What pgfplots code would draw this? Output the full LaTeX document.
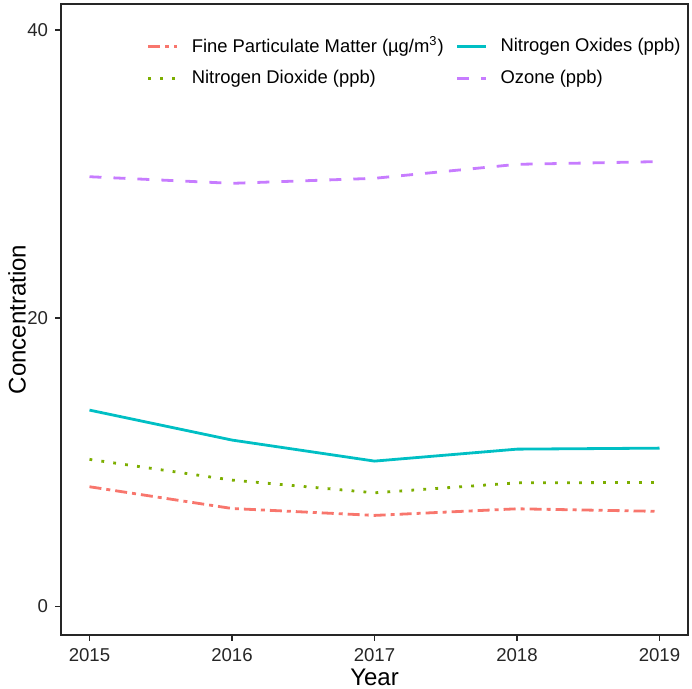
\documentclass[border=0pt]{standalone}
\usepackage{pgfplots}
\pgfplotsset{compat=1.18}
\usepackage{fontspec}
\setmainfont{Liberation Sans}
\definecolor{cPM}{HTML}{F8766D}
\definecolor{cNO2}{HTML}{7CAE00}
\definecolor{cNOX}{HTML}{00BFC4}
\definecolor{cO3}{HTML}{C77CFF}
\begin{document}
\begin{tikzpicture}
\begin{axis}[
  at={(0,0)}, anchor=south west,
  scale only axis, width=313.5pt, height=315.5pt,
  xmin=2014.8, xmax=2019.2, ymin=-2, ymax=41.8,
  axis line style={black!85, line width=0.6pt},
  xtick={2015,2016,2017,2018,2019}, ytick={0,20,40},
  tick align=outside, tick pos=left, major tick length=3pt,
  tick style={black!85, line width=0.6pt},
  /pgf/number format/assume math mode=true,
  /pgf/number format/1000 sep={},
  ticklabel style={font=\fontsize{9.3}{10}\selectfont, text=black!85},
  xlabel={Year}, ylabel={Concentration},
  label style={font=\fontsize{12}{13}\selectfont},
  xlabel style={at={(axis description cs:0.5,-0.0666)}, anchor=center},
  ylabel style={at={(axis description cs:-0.0700,0.5)}, anchor=center},
  legend columns=2,
  legend cell align=left,
  legend style={at={(0.127,0.962)}, anchor=north west, draw=none, fill=none,
    font=\fontsize{9.2}{11}\selectfont, row sep=3pt,
    /tikz/every odd column/.append style={column sep=4.5pt},
    /tikz/every even column/.append style={column sep=4pt}},
  legend image code/.code={\draw[#1] (0pt,0pt) -- (14.5pt,0pt);},
]
\addplot[color=cPM, line width=1.4pt, dash pattern=on 6pt off 2.5pt on 2pt off 2.5pt] coordinates {
 (2015,8.29) (2016,6.78) (2017,6.30) (2018,6.76) (2019,6.58)};
\addlegendentry{Fine Particulate Matter (µg/m\textsuperscript{3})}
\addplot[color=cNOX, line width=1.4pt] coordinates {
 (2015,13.61) (2016,11.53) (2017,10.07) (2018,10.90) (2019,10.97)};
\addlegendentry{Nitrogen Oxides (ppb)}
\addplot[color=cNO2, line width=1.4pt, dash pattern=on 1.4pt off 4.6pt] coordinates {
 (2015,10.19) (2016,8.75) (2017,7.87) (2018,8.56) (2019,8.59)};
\addlegendentry{Nitrogen Dioxide (ppb)}
\addplot[color=cO3, line width=1.4pt, dash pattern=on 6pt off 6pt] coordinates {
 (2015,29.81) (2016,29.35) (2017,29.70) (2018,30.67) (2019,30.86)};
\addlegendentry{Ozone (ppb)}
\end{axis}
\pgfresetboundingbox
\path[use as bounding box] ([shift={(-30.5pt,-27pt)}]current axis.south west) rectangle ([shift={(2pt,2pt)}]current axis.north east);
\end{tikzpicture}
\end{document}
